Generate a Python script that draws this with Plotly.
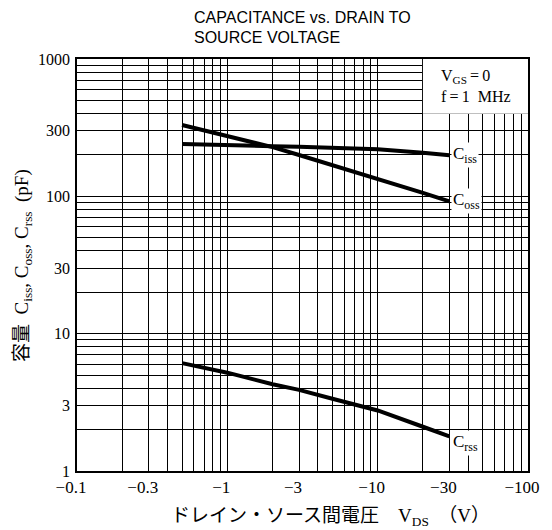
import math
import plotly.graph_objects as go

# Drain-source voltage (V)
vds = [-0.5, -0.7, -1, -2, -3, -5, -10, -20, -30]
ciss = [240, 239, 237, 232, 230, 227, 220, 208, 199]
coss = [331, 303, 275, 228, 200, 169, 135, 106, 92]
crss = [6.1, 5.65, 5.2, 4.28, 3.9, 3.36, 2.76, 2.1, 1.79]

x_tickvals = [0.1, 0.3, 1, 3, 10, 30, 100]
x_ticktext = ["\u22120.1", "\u22120.3", "\u22121", "\u22123", "\u221210", "\u221230", "\u2212100"]
y_tickvals = [1, 3, 10, 30, 100, 300, 1000]
y_ticktext = ["1", "3", "10", "30", "100", "300", "1000"]

decades_x = [0.1, 1, 10]
decades_y = [1, 10, 100]
minor_x = [d * k for d in decades_x for k in (2, 4, 5, 6, 7, 8, 9)]
minor_y = [d * k for d in decades_y for k in (2, 4, 5, 6, 7, 8, 9)]

SERIF = "Liberation Serif, Times New Roman, serif"
absv = [abs(v) for v in vds]
lg = math.log10

fig = go.Figure()
for name, vals in (("Ciss", ciss), ("Coss", coss), ("Crss", crss)):
    fig.add_trace(go.Scatter(x=absv, y=vals, mode="lines", name=name,
                             line=dict(color="black", width=4), showlegend=False))

axis_common = dict(type="log", showline=True, linecolor="black", linewidth=1.5, mirror=True,
                   showgrid=True, gridcolor="black", gridwidth=1, ticks="", zeroline=False)

fig.update_xaxes(range=[-1, 2], tickmode="array", tickvals=x_tickvals, ticktext=x_ticktext,
                 minor=dict(tickvals=minor_x, showgrid=True, gridcolor="black", gridwidth=1, ticks=""),
                 ticklabelshift=-6, ticklabelstandoff=0,
                 tickfont=dict(family=SERIF, size=17, color="black"), **axis_common)
fig.update_yaxes(range=[0, 3], tickmode="array", tickvals=y_tickvals, ticktext=y_ticktext,
                 minor=dict(tickvals=minor_y, showgrid=True, gridcolor="black", gridwidth=1, ticks=""),
                 ticklabelstandoff=2,
                 tickfont=dict(family=SERIF, size=16, color="black"), **axis_common)

# condition box (white background)
fig.add_shape(type="rect", xref="x", yref="y", x0=20, x1=100, y0=400, y1=1000,
              fillcolor="white", line=dict(width=0), layer="between")
fig.add_annotation(xref="x", yref="y", x=lg(45), y=lg(640),
                   text="V<sub>GS</sub>\u2009=\u20090<br>f\u2009=\u20091\u2002MHz",
                   showarrow=False, align="left", xanchor="center", yanchor="middle",
                   font=dict(family=SERIF, size=16, color="black"))

# curve labels
for txt, yv, ys in (("C<sub>iss</sub>", ciss[-1], 0), ("C<sub>oss</sub>", coss[-1], 0),
                    ("C<sub>rss</sub>", crss[-1], -7)):
    fig.add_annotation(xref="x", yref="y", x=lg(30), y=lg(yv), text=txt, showarrow=False,
                       xanchor="left", yanchor="middle", xshift=2, yshift=ys,
                       bgcolor="white", borderpad=1,
                       font=dict(family=SERIF, size=17, color="black"))

# title (two lines)
TFONT = dict(family="Liberation Sans, Arial, sans-serif", size=16, color="black")
fig.add_annotation(xref="paper", yref="paper", x=0.254, y=(471 - 18) / 412, xanchor="left",
                   yanchor="middle", text="CAPACITANCE vs. DRAIN TO", showarrow=False, font=TFONT)
fig.add_annotation(xref="paper", yref="paper", x=0.254, y=(471 - 37) / 412, xanchor="left",
                   yanchor="middle", text="SOURCE VOLTAGE", showarrow=False, font=TFONT)

# axis titles
fig.add_annotation(xref="paper", yref="paper", x=0.562, y=-0.112, xanchor="center", yanchor="middle",
                   text="ドレイン・ソース間電圧\u3000V<sub>DS</sub>\u2002（V）", showarrow=False,
                   font=dict(family="Liberation Serif, Noto Sans CJK JP", size=19, color="black"))
fig.add_annotation(xref="paper", yref="paper", x=-0.12, y=0.5, textangle=-90,
                   xanchor="center", yanchor="middle",
                   text="容量\u2002C<sub>iss</sub>, C<sub>oss</sub>, C<sub>rss</sub>\u2002(pF)", showarrow=False,
                   font=dict(family="Liberation Serif, Noto Sans CJK JP", size=19, color="black"))

# page body has an 8px margin; size the figure so the plot area lands at x 77-534, y 59-471
fig.update_layout(width=544, height=522, margin=dict(l=69, r=18, t=51, b=59),
                  plot_bgcolor="white", paper_bgcolor="white")

fig.write_html("out.html")
